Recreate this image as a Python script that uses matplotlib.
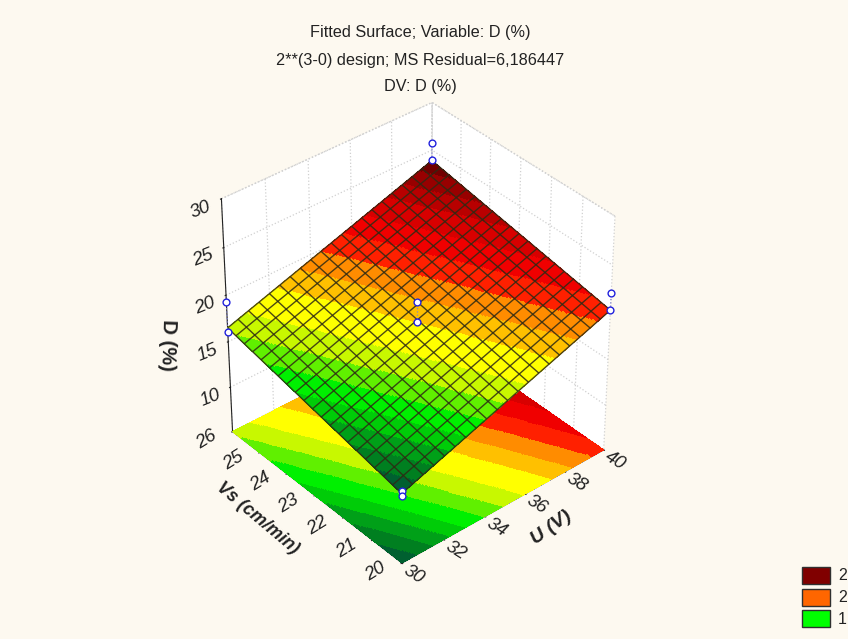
import numpy as np
import matplotlib
matplotlib.use('Agg')
import matplotlib.pyplot as plt
from matplotlib.colors import ListedColormap, BoundaryNorm
from matplotlib.patches import Rectangle

plt.rcParams['font.family'] = ['Liberation Sans', 'DejaVu Sans']
plt.rcParams['grid.color'] = '#d0d0d0'
plt.rcParams['grid.linestyle'] = ':'
plt.rcParams['grid.linewidth'] = 0.9
plt.rcParams['axes.linewidth'] = 0.8

BG = '#fdf9f0'

# design points: upper marker and marker near the surface
u_points = [30, 30, 40, 40, 35]
vs_points = [20, 26, 20, 26, 23]
d_upper = [12.9, 19.3, 22.1, 25.8, 20.2]
d_lower = [12.3, 16.0, 20.3, 23.9, 18.1]
d_fitted = [12.6, 16.5, 20.3, 23.9, 18.3]

u_ticks = [30, 32, 34, 36, 38, 40]
vs_ticks = [20, 21, 22, 23, 24, 25, 26]
d_ticks = [10, 15, 20, 25, 30]

levels = [5, 13.1, 13.7, 14.3, 14.9, 15.6, 16.3, 17.1, 18.2, 19.0, 19.8,
          20.6, 21.4, 22.2, 22.8, 23.4, 31]
band_colors = ['#006030', '#007f20', '#00a018', '#00cc08', '#00f000', '#60f000',
               '#c8f800', '#ffff00', '#ffc000', '#ff8c00', '#ff2000', '#f00000',
               '#d80000', '#b80000', '#980000', '#700000']
legend_colors = ['#800000', '#ff6600', '#00ff00']
legend_labels = ['2', '2', '1']

# fit the surface through the design points, with the U*Vs term
A = np.column_stack([np.ones(5), u_points, vs_points, np.multiply(u_points, vs_points)])
coef = np.linalg.lstsq(A, np.array(d_fitted), rcond=None)[0]

uu, vv = np.meshgrid(np.linspace(30, 40, 161), np.linspace(20, 26, 161))
dd = coef[0] + coef[1] * uu + coef[2] * vv + coef[3] * uu * vv
uw, vw = np.meshgrid(np.linspace(30, 40, 21), np.linspace(20, 26, 21))
dw = coef[0] + coef[1] * uw + coef[2] * vw + coef[3] * uw * vw

cmap = ListedColormap(band_colors)
norm = BoundaryNorm(levels, cmap.N)
centers = (dd[:-1, :-1] + dd[1:, 1:]) / 2
faces = cmap(norm(centers))

fig = plt.figure(figsize=(8.48, 6.39), dpi=100, facecolor=BG)
ax = fig.add_axes([-0.018, -0.026, 1, 1], projection='3d', facecolor=BG)
ax.patch.set_alpha(0)
ax.computed_zorder = False
ax.set_proj_type('persp', focal_length=0.85)
ax.view_init(elev=36.5, azim=-130.5)
ax.set_box_aspect((1, 1, 1.07), zoom=0.73)

ax.set_xlim(30, 40)
ax.set_ylim(20, 26)
ax.set_zlim(5, 30)

# floor then surface then mesh
ax.plot_surface(uu, vv, np.full_like(dd, 5.0), facecolors=faces, rstride=1, cstride=1,
                shade=False, linewidth=0, antialiased=False, zorder=1)
ax.plot_surface(uu, vv, dd, facecolors=faces, rstride=1, cstride=1,
                shade=False, linewidth=0, antialiased=False, zorder=2)
ax.plot_wireframe(uw, vw, dw, rstride=1, cstride=1, color='#2e2a14', linewidth=1.0, alpha=0.85, zorder=3)

for u, v, d1, d2 in zip(u_points, vs_points, d_upper, d_lower):
    ax.plot([u, u], [v, v], [d2, d1], color='#8080d0', linestyle=':', linewidth=0.9, zorder=4)
ax.scatter(u_points, vs_points, d_upper, s=24, facecolors='white', edgecolors='#2222dd',
           linewidths=1.0, depthshade=False, zorder=5)
ax.scatter(u_points, vs_points, d_lower, s=24, facecolors='white', edgecolors='#2222dd',
           linewidths=1.0, depthshade=False, zorder=5)

ax.set_xticks(u_ticks)
ax.set_yticks(vs_ticks)
ax.set_zticks(d_ticks)
ax.tick_params(axis='x', labelsize=13.5, labelrotation=-32, pad=8, colors='#222222')
ax.tick_params(axis='y', labelsize=13.5, labelrotation=32, pad=7, colors='#222222')
ax.tick_params(axis='z', labelsize=13.5, labelrotation=22, pad=5, colors='#222222')

for axis in (ax.xaxis, ax.yaxis, ax.zaxis):
    axis.set_pane_color('white')
    axis.pane.set_edgecolor('#d0d0d0')
    axis.pane.set_linestyle(':')
    axis.line.set_color('#222222')
    axis._axinfo['tick']['inward_factor'] = 0.05
    axis._axinfo['tick']['outward_factor'] = 0.0
    for lab in axis.get_ticklabels():
        lab.set_fontstyle('italic')
ax.zaxis.set_ticks_position('upper')
ax.zaxis.set_label_position('upper')

# shift the floor tick labels up and outwards as in the original
for lab in ax.get_xticklabels():
    lab.set_va('bottom')
for lab in ax.get_yticklabels():
    lab.set_va('bottom')
    lab.set_ha('right')

fig.text(168 / 848, 1 - 345 / 639, 'D (%)', rotation=-92, ha='center', va='center',
         fontsize=14.5, fontweight='bold', color='#222222')
fig.text(258 / 848, 1 - 518 / 639, 'Vs (cm/min)', rotation=-40, ha='center', va='center',
         fontsize=13, fontweight='bold', style='italic', color='#222222')
fig.text(551 / 848, 1 - 528 / 639, 'U (V)', rotation=36, ha='center', va='center',
         fontsize=14, fontweight='bold', style='italic', color='#222222')

title_lines = ['Fitted Surface; Variable: D (%)', '2**(3-0) design; MS Residual=6,186447', 'DV: D (%)']
for line, y in zip(title_lines, [33, 60, 87]):
    fig.text(420 / 848, 1 - y / 639, line, ha='center', va='center', fontsize=11.7, color='#222222')

for i, (col, lab) in enumerate(zip(legend_colors, legend_labels)):
    top = 567 + i * 21.5
    fig.add_artist(Rectangle((802 / 848, 1 - (top + 17) / 639), 28 / 848, 17 / 639,
                             facecolor=col, edgecolor='#303030', linewidth=1.0,
                             transform=fig.transFigure))
    fig.text(838 / 848, 1 - (top + 9) / 639, lab, ha='left', va='center', fontsize=11.5, color='#222222')

fig.savefig('out.png', dpi=100, facecolor=BG)
